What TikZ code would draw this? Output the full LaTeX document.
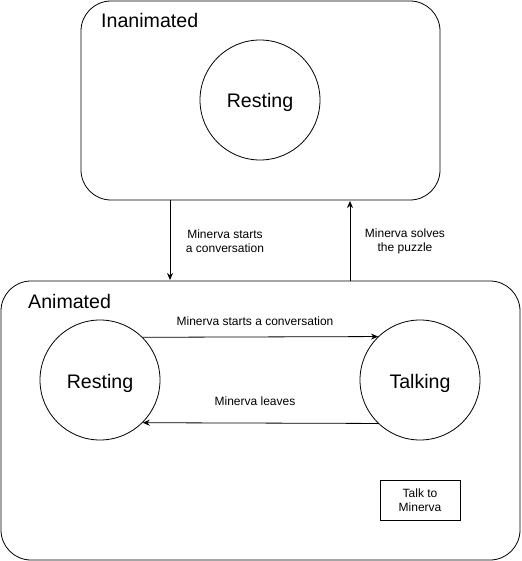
\documentclass[tikz,border=0pt]{standalone}
\usepackage{fontspec}
\setmainfont{Liberation Sans}
\usetikzlibrary{arrows.meta}
\begin{document}
\begin{tikzpicture}[x=1pt,y=-1pt,
  group/.style={draw,rounded corners=30pt,line width=0.8pt},
  state/.style={draw,circle,minimum size=120pt,inner sep=0pt,line width=0.8pt},
  big/.style={font=\fontsize{19.6}{22}\selectfont,inner sep=0pt},
  lbl/.style={font=\fontsize{12}{14}\selectfont,align=center,inner sep=0pt},
  arr/.style={-{Stealth[length=7pt,width=6pt]},line width=0.8pt}]
\useasboundingbox (0,0) rectangle (521,561);
\draw[group] (81,1) rectangle (440,200);
\node[big,anchor=base west] (inan) at (101,28) {Inanimated};
\node[state] (r0) at (260,100) {};
\node[big,anchor=base] (r0t) at (260,108) {Resting};
\draw[group] (1,281) rectangle (520,560);
\node[big,anchor=base west] (anim) at (28,308) {Animated};
\node[state] (r1) at (100,380) {};
\node[big,anchor=base] (r1t) at (100,388) {Resting};
\node[state] (t1) at (420,380) {};
\node[big,anchor=base] (t1t) at (420,388) {Talking};
\node[draw,minimum width=80pt,minimum height=40pt,lbl,line width=0.8pt] (talk) at (420,500) {Talk to\\Minerva};
\coordinate (d1) at (170,200);
\coordinate (d2) at (170,280);
\coordinate (u1) at (350,281);
\coordinate (u2) at (350,201);
\draw[arr] (d1) -- (d2);
\draw[arr] (u1) -- (u2);
\node[lbl] (l1) at (225,241) {Minerva starts\\a conversation};
\node[lbl] (l2) at (405,241) {Minerva solves\\the puzzle};
\draw[arr] (r1.{45.5}) -- (t1.{134.5});
\draw[arr] (t1.{-134.5}) -- (r1.{-45.5});
\node[lbl] (l3) at (255,321) {Minerva starts a conversation};
\node[lbl] (l4) at (255,401) {Minerva leaves};
\end{tikzpicture}
\end{document}
